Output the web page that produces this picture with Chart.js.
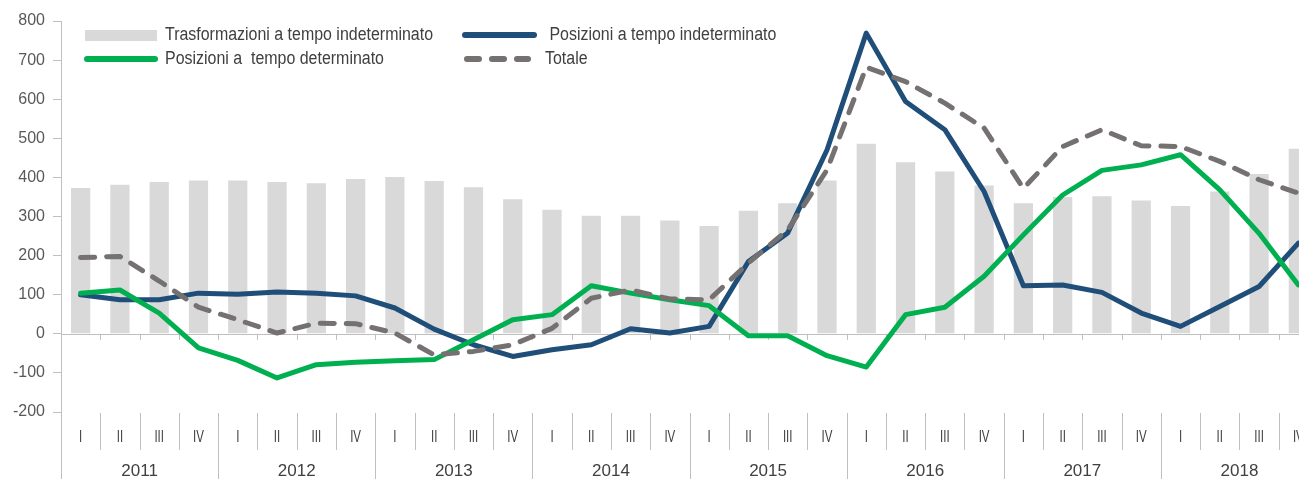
<!DOCTYPE html>
<html>
<head>
<meta charset="utf-8">
<script src="https://cdn.jsdelivr.net/npm/chart.js@4/dist/chart.umd.min.js"></script>
<style>
html, body { margin: 0; padding: 0; overflow: hidden; background: #fff; }
canvas { display: block; }
</style>
</head>
<body>
<canvas id="chart" width="1322" height="479"></canvas>
<script>
// dati trimestrali 2011-2018 (migliaia)
const years = ['2011', '2012', '2013', '2014', '2015', '2016', '2017', '2018'];
const quarters = ['I', 'II', 'III', 'IV'];
const trasformazioni = [373, 381, 388, 392, 392, 388, 385, 396, 401, 391, 375, 344, 317, 302, 302, 290,
    276, 315, 334, 392, 486, 439, 415, 379, 334, 350, 352, 341, 327, 364, 409, 473];
const posIndeterminato = [100, 87, 87, 104, 101, 107, 104, 97, 66, 12, -28, -58, -41, -28, 13, 2,
    19, 185, 258, 470, 769, 594, 522, 364, 123, 125, 106, 53, 19, 70, 121, 232];
const posDeterminato = [104, 112, 53, -36, -68, -113, -79, -73, -69, -66, -15, 36, 49, 123, 104, 87,
    72, -5, -5, -56, -85, 49, 68, 147, 253, 355, 418, 432, 458, 368, 257, 125];
const totale = [195, 198, 135, 68, 36, 2, 27, 26, 2, -54, -45, -28, 14, 91, 112, 89,
    87, 181, 266, 419, 682, 645, 590, 526, 372, 479, 522, 481, 479, 441, 394, 360];
const yMin = -200, yMax = 800, yStep = 100;

const labels = [];
years.forEach(y => quarters.forEach(q => labels.push(y + ' ' + q)));

const axisColor = '#BFBFBF';
const textColor = '#404040';
const narrowFont = '18px "Liberation Sans Narrow", "Arial Narrow", "Liberation Sans", Arial, sans-serif';

function narrowText(ctx, text, x, y, sx) {
    ctx.save();
    ctx.translate(x, y);
    ctx.scale(sx, 1);
    ctx.fillText(text, 0, 0);
    ctx.restore();
}

// assi e legenda in stile Excel
const decor = {
    id: 'decor',
    beforeDatasetsDraw(chart) {
        const {ctx, chartArea} = chart;
        const xs = chart.scales.x, ys = chart.scales.y;
        const n = labels.length;
        const w = (xs.right - xs.left) / n;
        const y0 = ys.getPixelForValue(0);
        ctx.save();
        ctx.strokeStyle = axisColor;
        ctx.lineWidth = 1;
        ctx.beginPath();
        ctx.moveTo(chartArea.left, Math.round(y0) + 0.5);
        ctx.lineTo(chartArea.right, Math.round(y0) + 0.5);
        for (let i = 1; i <= n; i++) {
            const x = Math.round(xs.getPixelForValue(i - 1) + w / 2) + 0.5;
            ctx.moveTo(x, y0);
            ctx.lineTo(x, y0 + 6);
        }
        ctx.stroke();
        ctx.restore();
    },
    afterDraw(chart) {
        const {ctx, chartArea} = chart;
        const xs = chart.scales.x;
        const n = labels.length;
        const w = (xs.right - xs.left) / n;
        const bottom = chart.height;
        const top = chartArea.bottom + 1;

        ctx.save();
        ctx.strokeStyle = axisColor;
        ctx.lineWidth = 1;
        ctx.beginPath();
        const left = Math.round(chartArea.left) + 0.5;
        ctx.moveTo(left, chartArea.top);
        ctx.lineTo(left, bottom);
        for (let i = 1; i <= n; i++) {
            const x = Math.round(xs.getPixelForValue(i - 1) + w / 2) + 0.5;
            ctx.moveTo(x, top);
            ctx.lineTo(x, i % 4 === 0 ? bottom : top + 37);
        }
        ctx.stroke();

        // etichette trimestri e anni
        ctx.fillStyle = textColor;
        ctx.textAlign = 'center';
        ctx.textBaseline = 'middle';
        ctx.font = '16px "Liberation Sans", Arial, sans-serif';
        labels.forEach((lab, i) => {
            narrowText(ctx, quarters[i % 4], xs.getPixelForValue(i), top + 25, 0.72);
        });
        ctx.font = '17px "Liberation Sans", Arial, sans-serif';
        years.forEach((y, k) => {
            const x = (xs.getPixelForValue(k * 4) + xs.getPixelForValue(k * 4 + 3)) / 2;
            ctx.fillText(y, x, top + 58);
        });

        // legenda
        const ds = chart.data.datasets;
        ctx.font = narrowFont;
        ctx.textAlign = 'left';
        const sx = 268 / ctx.measureText(ds[0].label).width;
        const slots = [
            {x0: 85, x1: 157, y: 35, tx: 165},
            {x0: 462, x1: 537, y: 35, tx: 545},
            {x0: 84, x1: 158, y: 59, tx: 165},
            {x0: 464, x1: 531, y: 59, tx: 545}
        ];
        ds.forEach((d, i) => {
            const s = slots[i];
            if (d.type === 'line') {
                ctx.save();
                ctx.strokeStyle = d.borderColor;
                ctx.lineWidth = 6;
                ctx.lineCap = 'round';
                if (d.borderDash) ctx.setLineDash([12, 13]);
                ctx.beginPath();
                ctx.moveTo(s.x0 + 3, s.y);
                ctx.lineTo(s.x1 - 3, s.y);
                ctx.stroke();
                ctx.restore();
            } else {
                ctx.fillStyle = d.backgroundColor;
                ctx.fillRect(s.x0, s.y - 5, s.x1 - s.x0, 11);
            }
            ctx.fillStyle = textColor;
            narrowText(ctx, d.label, s.tx, s.y, sx);
        });
        ctx.restore();
    }
};

new Chart(document.getElementById('chart'), {
    type: 'bar',
    data: {
        labels: labels,
        datasets: [
            {
                type: 'bar',
                label: 'Trasformazioni a tempo indeterminato',
                data: trasformazioni,
                backgroundColor: '#D9D9D9',
                barPercentage: 0.49,
                categoryPercentage: 1.0,
                order: 4
            },
            {
                type: 'line',
                label: ' Posizioni a tempo indeterminato',
                data: posIndeterminato,
                borderColor: '#1F4E79',
                borderWidth: 5,
                pointRadius: 0,
                tension: 0,
                borderJoinStyle: 'round',
                borderCapStyle: 'round',
                order: 3
            },
            {
                type: 'line',
                label: 'Posizioni a  tempo determinato',
                data: posDeterminato,
                borderColor: '#00B050',
                borderWidth: 5,
                pointRadius: 0,
                tension: 0,
                borderJoinStyle: 'round',
                borderCapStyle: 'round',
                order: 2
            },
            {
                type: 'line',
                label: 'Totale',
                data: totale,
                borderColor: '#767171',
                borderWidth: 5,
                borderDash: [14, 12],
                pointRadius: 0,
                tension: 0,
                borderJoinStyle: 'round',
                borderCapStyle: 'round',
                order: 1
            }
        ]
    },
    options: {
        responsive: false,
        animation: false,
        events: [],
        layout: {
            padding: {top: 21, right: 4, bottom: 67, left: 0}
        },
        plugins: {
            legend: {display: false},
            tooltip: {enabled: false}
        },
        scales: {
            x: {
                display: false,
                offset: true
            },
            y: {
                min: yMin,
                max: yMax,
                afterFit(scale) { scale.width = 61; },
                ticks: {
                    stepSize: yStep,
                    padding: 8,
                    color: '#595959',
                    font: {family: '"Liberation Sans", Arial, sans-serif', size: 16}
                },
                grid: {
                    drawOnChartArea: false,
                    drawTicks: true,
                    tickLength: 8,
                    color: axisColor
                },
                border: {display: true, color: axisColor}
            }
        }
    },
    plugins: [decor]
});
</script>
</body>
</html>
